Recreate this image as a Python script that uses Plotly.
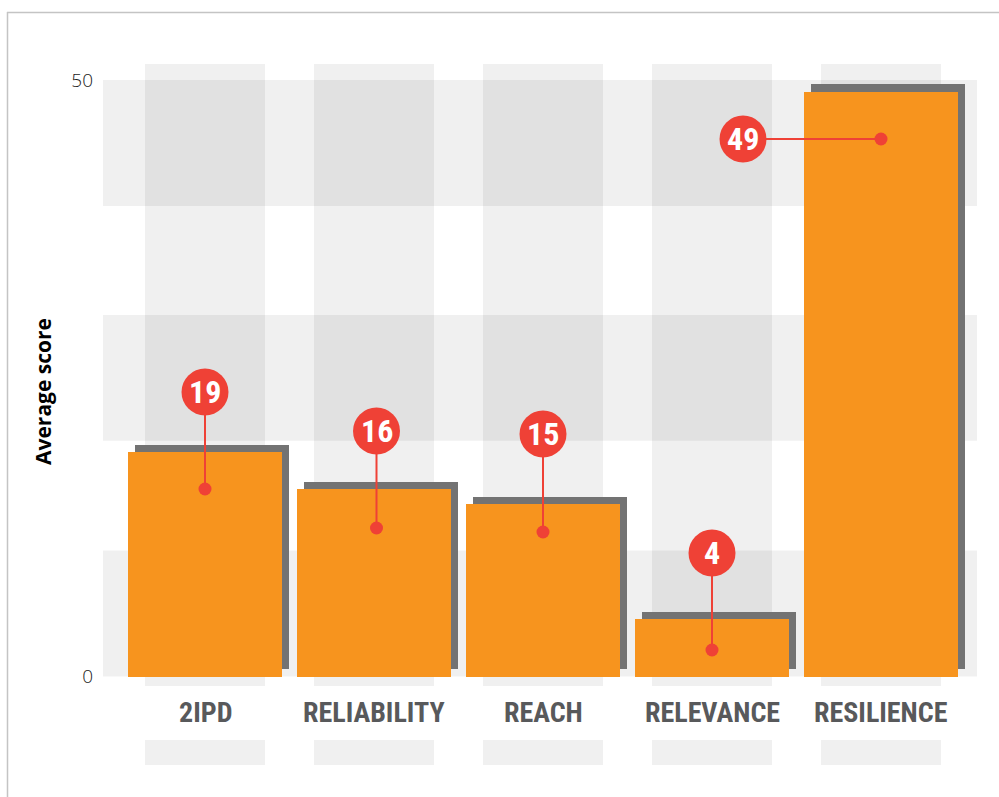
import plotly.graph_objects as go

# ---- data ----
categories = ["2IPD", "RELIABILITY", "REACH", "RELEVANCE", "RESILIENCE"]
scores = [18.8, 15.7, 14.45, 4.8, 49.0]
score_labels = ["19", "16", "15", "4", "49"]
y_tick_vals = [0, 50]
y_tick_text = ["0", "50"]

# ---- layout constants (pixels -> axis units) ----
W, H = 999, 797
M_L, M_R, M_T, M_B = 100, 19, 60, 27
PW = W - M_L - M_R
PH = H - M_T - M_B
PX_PER_Y = 11.93
PX_PER_X = 169.0
Y_TOP = 50 + (80 - M_T) / PX_PER_Y
Y_BOT = Y_TOP - PH / PX_PER_Y
X_LEFT = -(205 - M_L) / PX_PER_X
X_RIGHT = X_LEFT + PW / PX_PER_X

def px_to_y(py):
    return 50 - (py - 80) / PX_PER_Y

def px_to_dx(px):
    return px / PX_PER_X

ORANGE = "#f7941e"
SHADOW = "#737373"
RED = "#ef4136"
TINT = "rgba(0,0,0,0.059)"
COND = "Roboto Condensed"

xs = list(range(len(categories)))
bar_w = px_to_dx(153.5)
shift_x = px_to_dx(7)
shift_y = 7.5 / PX_PER_Y

circle_dx_px = [0, 2.5, 0, 0, -138]
circle_py = [392, 431, 434, 553, 139]
dot_dx_px = [0, 2.5, 0, 0, 0]
dot_py = [489, 528, 532, 650, 139]

fig = go.Figure()

fig.add_trace(go.Bar(
    x=[x + shift_x for x in xs], y=scores, base=[shift_y] * len(xs),
    width=bar_w, marker=dict(color=SHADOW, line=dict(width=0)),
    hoverinfo="skip", showlegend=False))
fig.add_trace(go.Bar(
    x=xs, y=scores, width=bar_w,
    marker=dict(color=ORANGE, line=dict(width=0)),
    hoverinfo="skip", showlegend=False))

for i in xs:
    cx = i + px_to_dx(circle_dx_px[i])
    dx = i + px_to_dx(dot_dx_px[i])
    fig.add_trace(go.Scatter(
        x=[cx, dx], y=[px_to_y(circle_py[i]), px_to_y(dot_py[i])],
        mode="lines", line=dict(color=RED, width=2),
        hoverinfo="skip", showlegend=False))

fig.add_trace(go.Scatter(
    x=[i + px_to_dx(dot_dx_px[i]) for i in xs],
    y=[px_to_y(p) for p in dot_py],
    mode="markers", marker=dict(color=RED, size=13, line=dict(width=0)),
    hoverinfo="skip", showlegend=False))

fig.add_trace(go.Scatter(
    x=[i + px_to_dx(circle_dx_px[i]) for i in xs],
    y=[px_to_y(p) for p in circle_py],
    mode="markers", marker=dict(color=RED, size=47, line=dict(width=0)),
    hoverinfo="skip", showlegend=False))

shapes = []
for lo, hi in [(0, 10.56), (19.77, 30.30), (39.44, 50)]:
    shapes.append(dict(type="rect", xref="x", yref="y", layer="below",
                       x0=X_LEFT + px_to_dx(3), x1=X_LEFT + px_to_dx(877),
                       y0=lo, y1=hi, fillcolor=TINT, line=dict(width=0)))
col_w = px_to_dx(120)
for i in xs:
    shapes.append(dict(type="rect", xref="x", yref="y", layer="below",
                       x0=i - col_w / 2, x1=i + col_w / 2,
                       y0=px_to_y(686), y1=px_to_y(64),
                       fillcolor=TINT, line=dict(width=0)))
    shapes.append(dict(type="rect", xref="x", yref="y", layer="below",
                       x0=i - col_w / 2, x1=i + col_w / 2,
                       y0=px_to_y(765), y1=px_to_y(740),
                       fillcolor=TINT, line=dict(width=0)))

def pxp(px):
    return (px - M_L) / PW

def pyp(py):
    return (H - M_B - py) / PH

shapes.append(dict(type="line", xref="paper", yref="paper",
                   x0=pxp(7), x1=pxp(1005), y0=pyp(12.5), y1=pyp(12.5),
                   line=dict(color="#c4c4c4", width=1.5)))
shapes.append(dict(type="line", xref="paper", yref="paper",
                   x0=pxp(7.5), x1=pxp(7.5), y0=pyp(12), y1=pyp(805),
                   line=dict(color="#c4c4c4", width=1.5)))

annotations = []
for i, c in enumerate(categories):
    annotations.append(dict(x=i, y=px_to_y(712), xref="x", yref="y",
                            text=c, showarrow=False,
                            font=dict(family=COND, size=28,
                                      color="#58595b", weight="bold"),
                            xanchor="center", yanchor="middle"))
    annotations.append(dict(x=i + px_to_dx(circle_dx_px[i]), y=px_to_y(circle_py[i]),
                            xref="x", yref="y", text=score_labels[i], showarrow=False,
                            font=dict(family=COND, size=32,
                                      color="white", weight="bold"),
                            xanchor="center", yanchor="middle"))

annotations.append(dict(x=pxp(43), y=pyp(392), xref="paper", yref="paper",
                        text="Average score", textangle=-90, showarrow=False,
                        font=dict(family="Open Sans", size=21, color="black", weight="bold"),
                        xanchor="center", yanchor="middle"))

fig.update_layout(
    width=W, height=H,
    margin=dict(l=M_L, r=M_R, t=M_T, b=M_B),
    paper_bgcolor="white", plot_bgcolor="white",
    barmode="overlay", bargap=0,
    shapes=shapes, annotations=annotations,
    xaxis=dict(range=[X_LEFT, X_RIGHT], showgrid=False, zeroline=False,
               showticklabels=False, ticks="", showline=False, fixedrange=True),
    yaxis=dict(range=[Y_BOT, Y_TOP], showgrid=False, zeroline=False,
               tickvals=y_tick_vals, ticktext=y_tick_text, ticks="",
               ticklabelstandoff=6,
               tickfont=dict(family="Open Sans", size=19, color="#222222", weight=300),
               showline=False, fixedrange=True),
    font=dict(family="Open Sans"),
)

fig.write_html("out.html", config={"displayModeBar": False},
               post_script="document.body.style.margin='0';")
